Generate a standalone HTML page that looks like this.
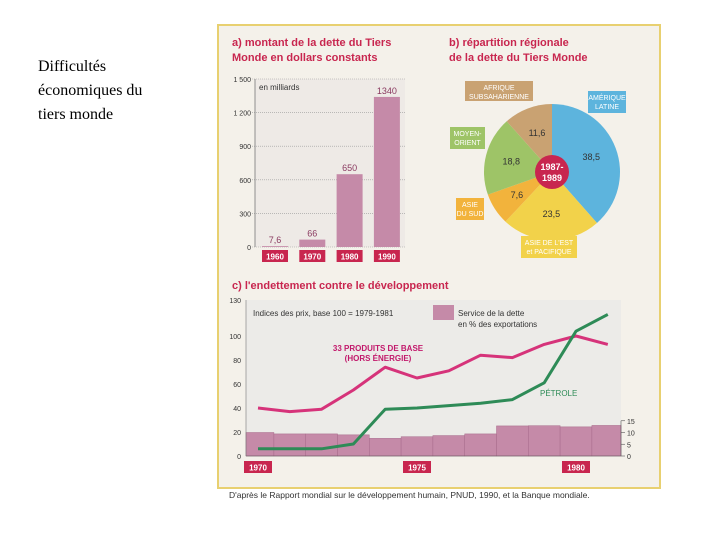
<!DOCTYPE html>
<html><head><meta charset="utf-8"><style>
body{margin:0;width:720px;height:540px;background:#fff;overflow:hidden;position:relative;font-family:"Liberation Sans",sans-serif}
#side{position:absolute;left:38px;top:55px;font:16px/24px "Liberation Serif",serif;color:#000}
</style></head><body>
<div id="side">Difficultés<br>économiques du<br>tiers monde</div>
<svg id="s" width="720" height="540" style="position:absolute;left:0;top:0">
<rect x="218" y="25" width="442" height="463" fill="#f4f1ea" stroke="#e8d070" stroke-width="2"/>
</svg>
<script>
const NS="http://www.w3.org/2000/svg",s=document.getElementById('s');
function el(t,a,txt){const e=document.createElementNS(NS,t);for(const k in a)e.setAttribute(k,a[k]);if(txt!==undefined)e.textContent=txt;s.appendChild(e);return e;}
const red="#c8264f",mauve="#c58aa8";
// ---- chart a
const aYears=["1960","1970","1980","1990"];
const aVals=[7.6,66,650,1340];
const aLabels=["7,6","66","650","1340"];
const aTicks=[0,300,600,900,1200,1500];
const aTickLabels=["0","300","600","900","1 200","1 500"];
const ay=v=>247-v*0.112;
let t=el('text',{x:232,y:46,fill:red,'font-size':11,'font-weight':'bold'},'a)  montant de la dette du Tiers');

el('text',{x:232,y:61,fill:red,'font-size':11,'font-weight':'bold'},'Monde en dollars constants');
el('rect',{x:255,y:79,width:150,height:168,fill:"#eeeae6"});
aTicks.forEach((v,i)=>{el('line',{x1:252,x2:405,y1:ay(v),y2:ay(v),stroke:"#999",'stroke-width':0.6,'stroke-dasharray':'1 1'});
 const tl=el('text',{x:251,y:ay(v)+3,'font-size':7,'text-anchor':'end',fill:"#333"},aTickLabels[i]);
 });
el('line',{x1:255,x2:255,y1:79,y2:247,stroke:"#777",'stroke-width':0.8});
el('text',{x:259,y:90,'font-size':8,fill:"#333"},'en milliards');
aVals.forEach((v,i)=>{const x=262+i*37.3;
 const b=el('rect',{x:x,y:ay(v),width:26,height:247-ay(v),fill:mauve});
 
 el('text',{x:x+13,y:ay(v)-3,'font-size':9,fill:"#8a3a60",'text-anchor':'middle'},aLabels[i]);
 el('rect',{x:x,y:250,width:26,height:12,fill:red});
 el('text',{x:x+13,y:259.5,'font-size':8,fill:"#fff",'text-anchor':'middle','font-weight':'bold'},aYears[i]);});
// ---- chart b pie
const pNames=["AMÉRIQUE LATINE","ASIE DE L'EST et PACIFIQUE","ASIE DU SUD","MOYEN-ORIENT","AFRIQUE SUBSAHARIENNE"];
const pVals=[38.5,23.5,7.6,18.8,11.6];
const pCols=["#5db4dd","#f2d24a","#f2b33c","#9ec467","#c9a272"];
el('text',{x:449,y:46,fill:red,'font-size':11,'font-weight':'bold'},'b)  répartition régionale');
el('text',{x:449,y:61,fill:red,'font-size':11,'font-weight':'bold'},'de la dette du Tiers Monde');
const cx=552,cy=172,r=68;let ang=0;
pVals.forEach((v,i)=>{const a0=ang,a1=ang+v/100*2*Math.PI;ang=a1;
 const p=(a)=>[cx+r*Math.sin(a),cy-r*Math.cos(a)];const[p0x,p0y]=p(a0),[p1x,p1y]=p(a1);
 const sl=el('path',{d:`M${cx},${cy}L${p0x},${p0y}A${r},${r} 0 ${a1-a0>Math.PI?1:0} 1 ${p1x},${p1y}Z`,fill:pCols[i]});
 
 const m=(a0+a1)/2,lr=42;el('text',{x:cx+lr*Math.sin(m),y:cy-lr*Math.cos(m)+3,'font-size':9,'text-anchor':'middle',fill:"#333"},String(v).replace('.',','));});
el('circle',{cx:cx,cy:cy,r:17,fill:red});
el('text',{x:cx,y:cy-2,'font-size':9,fill:"#fff",'text-anchor':'middle','font-weight':'bold'},'1987-');
el('text',{x:cx,y:cy+9,'font-size':9,fill:"#fff",'text-anchor':'middle','font-weight':'bold'},'1989');
const lbl=[[588,91,38,22,["AMÉRIQUE","LATINE"],pCols[0]],[521,236,56,22,["ASIE DE L'EST","et PACIFIQUE"],pCols[1]],[456,198,28,22,["ASIE","DU SUD"],pCols[2]],[450,127,35,22,["MOYEN-","ORIENT"],pCols[3]],[465,81,68,20,["AFRIQUE","SUBSAHARIENNE"],pCols[4]]];
lbl.forEach(l=>{el('rect',{x:l[0],y:l[1],width:l[2],height:l[3],fill:l[5]});
 el('text',{x:l[0]+l[2]/2,y:l[1]+9,'font-size':7,fill:"#fff",'text-anchor':'middle'},l[4][0]);
 el('text',{x:l[0]+l[2]/2,y:l[1]+18,'font-size':7,fill:"#fff",'text-anchor':'middle'},l[4][1]);});
// ---- chart c
const cYears=[1970,1971,1972,1973,1974,1975,1976,1977,1978,1979,1980,1981];
const prodVals=[40,37,39,55,74,65,71,84,82,93,100,93];
const oilVals=[6,6,6,10,39,40,42,44,47,61,104,118];
const debtVals=[10,9.4,9.4,9,7.5,8.2,8.7,9.4,12.8,12.9,12.4,13];
const cTicks=[0,20,40,60,80,100,130];
const rTicks=[0,5,10,15];
const cx_=y=>258+(y-1970)*31.8, cy_=v=>456-v*1.2, ry=v=>456-v*2.35;
el('text',{x:232,y:289,fill:red,'font-size':11,'font-weight':'bold'},'c)  l\'endettement contre le développement');
el('rect',{x:246,y:300,width:375,height:156,fill:"#ecebe8"});
cTicks.forEach(v=>{const tl=el('text',{x:241,y:cy_(v)+3,'font-size':7,'text-anchor':'end',fill:"#333"},String(v));
 });
debtVals.forEach((v,i)=>{const x0=Math.max(246,cx_(cYears[i])-15.9),x1=Math.min(621,cx_(cYears[i])+15.9);
 const b=el('rect',{x:x0,y:ry(v),width:x1-x0,height:456-ry(v),fill:mauve,stroke:"#a76a8a",'stroke-width':0.5});
 });
rTicks.forEach(v=>{el('line',{x1:621,x2:625,y1:ry(v),y2:ry(v),stroke:"#555",'stroke-width':0.6});
 el('text',{x:627,y:ry(v)+3,'font-size':7,fill:"#333"},String(v));});
el('line',{x1:621,x2:621,y1:ry(15),y2:456,stroke:"#555",'stroke-width':0.6});
el('line',{x1:246,x2:621,y1:456,y2:456,stroke:"#555",'stroke-width':0.6});
el('line',{x1:246,x2:246,y1:300,y2:456,stroke:"#777",'stroke-width':0.6});
function line(vals,col,name){const pl=el('polyline',{points:vals.map((v,i)=>cx_(cYears[i])+','+cy_(v)).join(' '),fill:'none',stroke:col,'stroke-width':3,'stroke-linejoin':'round'});
 }
line(prodVals,"#d6337a","line-produits-de-base");
line(oilVals,"#2e8b57","line-petrole");
el('text',{x:253,y:316,'font-size':8,fill:"#333"},'Indices des prix, base 100 = 1979-1981');
el('rect',{x:433,y:305,width:21,height:15,fill:mauve});
el('text',{x:458,y:316,'font-size':8,fill:"#333"},'Service de la dette');
el('text',{x:458,y:327,'font-size':8,fill:"#333"},'en % des exportations');
el('text',{x:378,y:351,'font-size':8,fill:"#c2186b",'text-anchor':'middle','font-weight':'bold'},'33 PRODUITS DE BASE');
el('text',{x:378,y:361,'font-size':8,fill:"#c2186b",'text-anchor':'middle','font-weight':'bold'},'(HORS ÉNERGIE)');
el('text',{x:540,y:396,'font-size':8,fill:"#2e8b57"},'PÉTROLE');
[[1970,"1970"],[1975,"1975"],[1980,"1980"]].forEach(y=>{el('rect',{x:cx_(y[0])-14,y:461,width:28,height:12,fill:red});
 el('text',{x:cx_(y[0]),y:470.5,'font-size':8,fill:"#fff",'text-anchor':'middle','font-weight':'bold'},y[1]);});
el('text',{x:229,y:498,'font-size':8.5,fill:"#333"},'D\'après le Rapport mondial sur le développement humain, PNUD, 1990, et la Banque mondiale.');
</script>
</body></html>
